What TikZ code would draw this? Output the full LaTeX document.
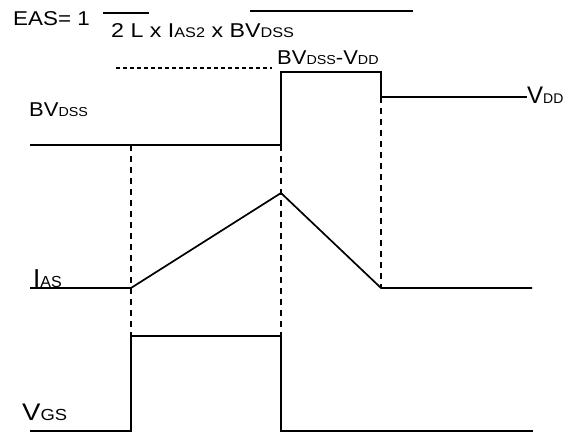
\documentclass[tikz,border=0pt]{standalone}
\usepackage{graphicx}
\usepackage{fontspec}
\setmainfont{Liberation Sans}
\newcommand{\fs}[1]{\fontsize{#1}{#1}\selectfont}
\newcommand{\lo}[1]{{\fs{13}#1}}
\newcommand{\sq}[2]{\scalebox{#1}[1]{#2}}
\begin{document}
\begin{tikzpicture}[x=1pt, y=-1pt, line join=miter, line cap=butt,
		wave/.style={line width=1.7pt},
		guide/.style={line width=1.6pt, dash pattern=on 6pt off 5pt},
		lbl/.style={inner sep=0pt, anchor=base west}]
		\useasboundingbox (0,0) rectangle (572,433);
		\def\ta{131} %Thời điểm bật V_GS
		\def\tb{281}
		\def\tc{381}
		% công thức EAS
		\node[lbl] (eas) at (13,26) {\sq{1.12}{\fs{20}EAS= 1}};
		\node[lbl] (den) at (111,38) {\sq{1.16}{\fs{20}2 L x I\lo{\fs{14}AS2} x BV\lo{\fs{14}DSS}}};
		\draw[line width=1.1pt] (103,13) -- (149,13);
		\draw[line width=1.1pt] (250,11) -- (413,11);
		% V_DS
		\node[lbl] (bvdd) at (277,65) {\sq{1.1}{\fs{20}BV\lo{DSS}-V\lo{DD}}};
		\node[lbl] (bv) at (29,117) {\sq{1.1}{\fs{20}BV\lo{DSS}}};
		\node[lbl] (vdd) at (527,103) {\fs{24}V\lo{\fs{14}DD}};
		\draw[line width=1.2pt, dash pattern=on 4pt off 3pt] (116,68) -- (272,68);
		\draw[wave] (30,145) -- (\tb,145) -- (\tb,72) -- (\tc,72) -- (\tc,97) -- (527,97);
		% I_AS
		\node[lbl] (ias) at (33,287) {\fs{26}I\lo{\fs{16}AS}};
		\draw[wave] (30,288) -- (\ta,288) -- (\tb,193) -- (\tc,288) -- (532,288);
		% V_GS
		\node[lbl] (vgs) at (22,420) {\sq{1.15}{\fs{24}V\lo{\fs{16}GS}}};
		\draw[wave] (30,431) -- (\ta,431) -- (\ta,336) -- (\tb,336) -- (\tb,431) -- (533,431);
		% đường gióng
		\draw[guide] (\ta,145) -- (\ta,336);
		\draw[guide] (\tb,145) -- (\tb,336);
		\draw[guide] (\tc,97) -- (\tc,288);
\end{tikzpicture}
\end{document}
